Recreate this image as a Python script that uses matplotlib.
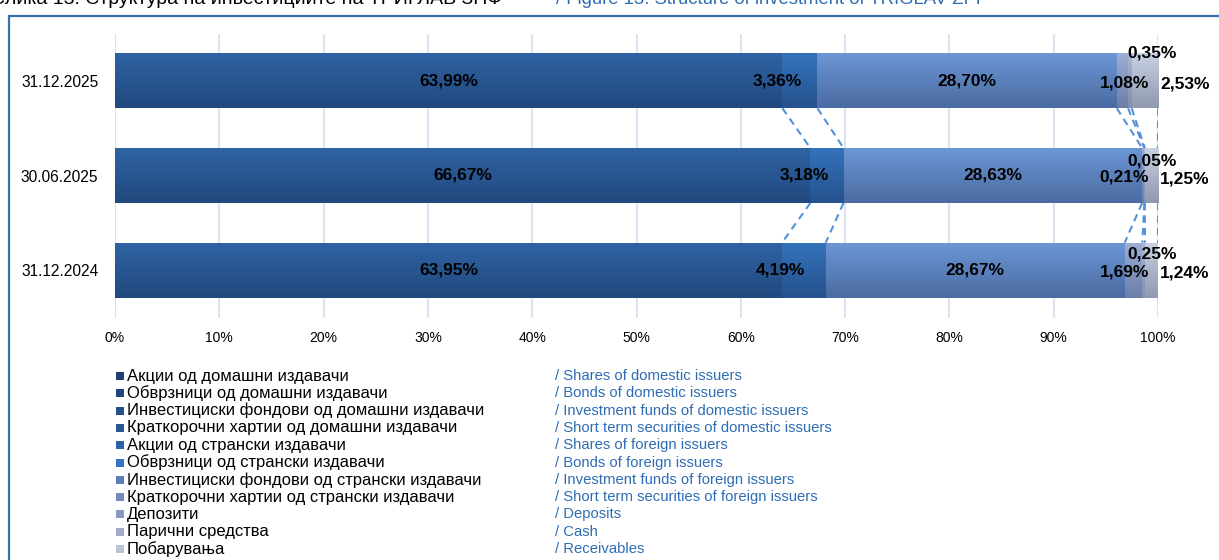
import numpy as np
import matplotlib
matplotlib.use("Agg")
import matplotlib.pyplot as plt
from matplotlib.colors import LinearSegmentedColormap
from matplotlib.patches import Rectangle

plt.rcParams['font.family'] = ['Liberation Sans', 'DejaVu Sans']

# ---------------- data ----------------
dates = ['31.12.2025', '30.06.2025', '31.12.2024']

labels_mk = ['Акции од домашни издавачи', 'Обврзници од домашни издавачи',
             'Инвестициски фондови од домашни издавачи', 'Краткорочни хартии од домашни издавачи',
             'Акции од странски издавачи', 'Обврзници од странски издавачи',
             'Инвестициски фондови од странски издавачи', 'Краткорочни хартии од странски издавачи',
             'Депозити', 'Парични средства', 'Побарувања']
labels_en = ['/ Shares of domestic issuers', '/ Bonds of domestic issuers',
             '/ Investment funds of domestic issuers', '/ Short term securities of domestic issuers',
             '/ Shares of foreign issuers', '/ Bonds of foreign issuers',
             '/ Investment funds of foreign issuers', '/ Short term securities of foreign issuers',
             '/ Deposits', '/ Cash', '/ Receivables']

shares_dom = [0.0, 0.0, 0.0]
bonds_dom = [63.99, 66.67, 63.95]
funds_dom = [0.0, 0.0, 0.0]
st_dom = [0.0, 0.0, 0.0]
shares_for = [3.36, 3.18, 4.19]
bonds_for = [0.0, 0.0, 0.0]
funds_for = [28.70, 28.63, 28.67]
st_for = [0.0, 0.0, 0.0]
deposits = [1.08, 0.21, 1.69]
cash = [0.35, 0.05, 0.25]
receivables = [2.53, 1.25, 1.24]

series = [shares_dom, bonds_dom, funds_dom, st_dom, shares_for, bonds_for,
          funds_for, st_for, deposits, cash, receivables]

# ---------------- styles ----------------
legend_colors = ['#1f3f6e', '#22467c', '#25508c', '#285898', '#2c62a8', '#3472c2',
                 '#5a7cb8', '#7289bb', '#8898c0', '#a2acca', '#bcc2d6']
grad_top = ['#2c5c9a', '#2f63a3', '#3066aa', '#3068ae', '#3472bc', '#3a7ac8',
            '#6b96d4', '#86a0d0', '#9aaed6', '#aab6d2', '#c8d0e2']
grad_bot = ['#1f4477', '#21497e', '#21497c', '#224c82', '#25528c', '#2a5c9e',
            '#4b6ba2', '#6278a8', '#6a7ea8', '#8090b0', '#9098b0']

W, H = 1219, 560
fig = plt.figure(figsize=(W / 100, H / 100), dpi=100)
ax = fig.add_axes([115 / W, 1 - 317.5 / H, (1158 - 115) / W, (317.5 - 33.5) / H])

ypos = np.arange(len(dates))
bh = 0.58
left = np.zeros(len(dates))
bounds = []
for k, vals in enumerate(series):
    vals = np.array(vals, dtype=float)
    bars = ax.barh(ypos, vals, left=left, height=bh, color=legend_colors[k],
                   linewidth=0, zorder=3)
    cmap = LinearSegmentedColormap.from_list('g%d' % k, [grad_top[k], grad_bot[k]])
    for p in bars:
        if p.get_width() <= 0:
            continue
        x0, y0, w, h = p.get_x(), p.get_y(), p.get_width(), p.get_height()
        im = ax.imshow(np.linspace(0, 1, 64).reshape(-1, 1), cmap=cmap,
                       extent=(x0, x0 + w, y0 + h, y0), origin='upper',
                       aspect='auto', zorder=3.5, interpolation='bilinear')
        im.set_clip_path(p)
    left = left + vals
    if vals.sum() > 0:
        bounds.append(left.copy())

# series lines (dashed connectors between segment boundaries)
for b in bounds:
    for i in range(len(dates) - 1):
        ax.plot([b[i], b[i + 1]], [ypos[i] + bh / 2, ypos[i + 1] - bh / 2],
                color='#5590dc', lw=1.5, ls=(0, (3.5, 2.5)), zorder=2)

# data labels
def fmt(v):
    return ('%.2f' % v).replace('.', ',') + '%'

cum = np.zeros(len(dates))
cash_dy = [28, 15, 16]
for k, vals in enumerate(series):
    vals = np.array(vals, dtype=float)
    for i in range(len(dates)):
        v = vals[i]
        if v <= 0:
            continue
        c = cum[i] + v / 2
        kw = dict(fontsize=12.5, fontweight='bold', color='black', va='center',
                  textcoords='offset pixels', zorder=6)
        if k == 8:
            ax.annotate(fmt(v), (100, ypos[i]), xytext=(-9, -2), ha='right', **kw)
        elif k == 9:
            ax.annotate(fmt(v), (100, ypos[i]), xytext=(-6, cash_dy[i]), ha='center', **kw)
        elif k == 10:
            ax.annotate(fmt(v), (100, ypos[i]), xytext=(27, -3), ha='center', **kw)
        elif v < 10:
            ax.annotate(fmt(v), (c, ypos[i]), xytext=(-23, 0), ha='center', **kw)
        else:
            ax.annotate(fmt(v), (c, ypos[i]), xytext=(0, 0), ha='center', **kw)
    cum = cum + vals

ax.set_xlim(0, 100)
ax.set_ylim(len(dates) - 0.5, -0.5)
ax.set_xticks(np.arange(0, 101, 10))
ax.set_xticklabels(['%d%%' % t for t in range(0, 101, 10)], fontsize=10)
ax.set_yticks(ypos)
ax.set_yticklabels(dates, fontsize=11.2)
ax.tick_params(length=0)
ax.tick_params(axis='x', pad=10)
ax.tick_params(axis='y', pad=12)
ax.grid(axis='x', color='#dae5f3', lw=1.5, zorder=0)
ax.set_axisbelow(True)
for s in ax.spines.values():
    s.set_visible(False)

# legend (manual two-column)
y0px, step = 376, 17.3
for j in range(len(labels_mk)):
    ypx = y0px + j * step
    fig.patches.append(Rectangle((116 / W, 1 - (ypx + 4) / H), 8 / W, 8 / H,
                                 transform=fig.transFigure, facecolor=legend_colors[j],
                                 edgecolor='none'))
    fig.text(127 / W, 1 - ypx / H, labels_mk[j], fontsize=12, color='black',
             va='center', ha='left')
    fig.text(555 / W, 1 - ypx / H, labels_en[j], fontsize=10.7, color='#2e6db4',
             va='center', ha='left')

# outer frame
fig.patches.append(Rectangle((8.5 / W, -0.1), 1.2, 1.1 - 15.5 / H, transform=fig.transFigure,
                             facecolor='none', edgecolor='#3a6fb2', lw=1.6))

# title (partially cut at top, as in the source)
fig.text(-9 / W, 1.0 + 1 / H, 'Слика 13: Структура на инвестициите на ТРИГЛАВ ЗПФ',
         fontsize=14, color='black', va='center', ha='left')
fig.text(556 / W, 1.0 + 1 / H, '/ Figure 13: Structure of investment of TRIGLAV ZPF',
         fontsize=13.3, color='#2e6db4', va='center', ha='left')

fig.savefig('out.png', dpi=100)
